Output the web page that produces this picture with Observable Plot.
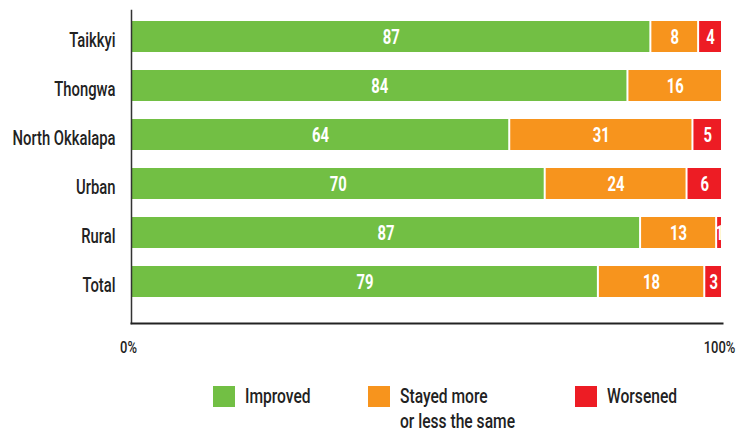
<!DOCTYPE html>
<html>
<head>
<meta charset="utf-8">
<script src="https://cdn.jsdelivr.net/npm/d3@7"></script>
<script src="https://cdn.jsdelivr.net/npm/@observablehq/plot@0.6"></script>
<style>
  html, body { margin: 0; padding: 0; background: #fff; }
  body { width: 744px; height: 436px; overflow: hidden; font-family: Roboto, "Noto Sans", sans-serif; }
  #chart svg { display: block; }
  #legend { position: relative; height: 64px; width: 744px; color: #222; font-size: 20px; font-weight: 500; }
  .item { position: absolute; top: 14px; }
  .sw { position: absolute; left: 0; top: 0; width: 22px; height: 21px; }
  .lab { position: absolute; top: -2px; white-space: nowrap; line-height: 25px; transform: scaleX(0.78); transform-origin: 0 0; }
</style>
</head>
<body>
<div id="chart"></div>
<div id="legend"></div>
<script>
const categories = ["Taikkyi", "Thongwa", "North Okkalapa", "Urban", "Rural", "Total"];
const improved = [87, 84, 64, 70, 87, 79];
const stayedSame = [8, 16, 31, 24, 13, 18];
const worsened = [4, 0, 5, 6, 1, 3];
const seriesNames = ["Improved", "Stayed more or less the same", "Worsened"];
const seriesColors = ["#72bf44", "#f7941d", "#ed1c24"];
const tickLabels = ["0%", "100%"];

const seriesValues = [improved, stayedSame, worsened];
const rows = [];
categories.forEach((c, i) => {
  seriesNames.forEach((s, j) => {
    const v = seriesValues[j][i];
    if (v > 0) rows.push({category: c, series: s, value: v});
  });
});

const font = 'Roboto, "Noto Sans", sans-serif';

const chart = Plot.plot({
  width: 744,
  height: 372,
  marginLeft: 131,
  marginRight: 22,
  marginTop: 10,
  marginBottom: 49,
  style: {fontFamily: font, fontSize: "18px", color: "#222", background: "#fff"},
  x: {domain: [0, 1], axis: null},
  y: {domain: categories, paddingInner: 0.372, paddingOuter: 0.354, align: 0.286, axis: null},
  color: {domain: seriesNames, range: seriesColors},
  marks: [
    Plot.barX(rows, Plot.stackX({
      x: "value", y: "category", fill: "series", order: seriesNames, offset: "normalize",
      insetLeft: 1, insetRight: 1
    })),
    Plot.text(rows, Plot.stackX({
      x: "value", y: "category", z: "series", order: seriesNames, offset: "normalize",
      text: d => String(d.value), fill: "white", fontWeight: "bold", fontSize: 20, dy: 1,
      className: "cond-bar"
    })),
    Plot.axisY({tickSize: 0, tickPadding: 16, fontSize: 20, fontWeight: 500, dy: 4, label: null, className: "cond-y"}),
    Plot.axisX({ticks: [0, 1], tickFormat: (d, i) => tickLabels[i], tickSize: 0, tickPadding: 17, fontSize: 17, fontWeight: 500, dx: -3, label: null, className: "cond-x"}),
    Plot.frame({anchor: "left", stroke: "#333", strokeWidth: 1.5}),
    Plot.frame({anchor: "bottom", stroke: "#222", strokeWidth: 2})
  ]
});
document.getElementById("chart").append(chart);

// emulate the condensed typeface of the original
const condense = {"cond-bar": 0.74, "cond-y": 0.74, "cond-x": 0.76};
Object.entries(condense).forEach(([cls, f]) => {
  chart.querySelectorAll("." + cls + " text").forEach(t => {
    const w = t.getComputedTextLength();
    if (w > 0) {
      t.setAttribute("textLength", (w * f).toFixed(1));
      t.setAttribute("lengthAdjust", "spacingAndGlyphs");
    }
  });
});

const legendPos = [213, 368, 575];
const legendLines = [["Improved"], ["Stayed more", "or less the same"], ["Worsened"]];
const legend = document.getElementById("legend");
seriesNames.forEach((s, i) => {
  const item = document.createElement("div");
  item.className = "item";
  item.style.left = legendPos[i] + "px";
  const sw = document.createElement("div");
  sw.className = "sw";
  sw.style.background = seriesColors[i];
  const lab = document.createElement("div");
  lab.className = "lab";
  lab.style.left = "32px";
  lab.innerHTML = legendLines[i].join("<br>");
  item.append(sw, lab);
  legend.append(item);
});
</script>
</body>
</html>
